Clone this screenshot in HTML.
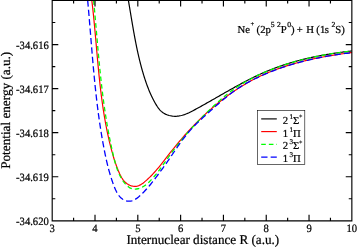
<!DOCTYPE html><html><head><meta charset="utf-8"><title>plot</title><style>html,body{margin:0;padding:0;background:#fff}svg{display:block}text{text-rendering:geometricPrecision;stroke:#000;stroke-width:0.22px;font-family:"Liberation Serif","DejaVu Serif",serif;fill:#000}</style></head><body>
<svg width="357" height="247" viewBox="0 0 357 247">
<rect width="357" height="247" fill="#fff"/>
<defs><clipPath id="c"><rect x="52.2" y="0.5" width="299.7" height="220.3"/></clipPath></defs>
<g clip-path="url(#c)" fill="none" stroke-linejoin="round">
<path d="M127.43,-5.02 L127.63,-3.92 L127.82,-2.82 L128.02,-1.72 L128.21,-0.61 L128.40,0.49 L128.59,1.59 L128.78,2.69 L128.97,3.79 L129.15,4.89 L129.34,5.99 L129.53,7.09 L129.71,8.19 L129.90,9.29 L130.08,10.39 L130.26,11.49 L130.45,12.59 L130.63,13.68 L130.81,14.78 L131.00,15.88 L131.18,16.98 L131.37,18.08 L131.55,19.18 L131.73,20.28 L131.92,21.37 L132.10,22.47 L132.29,23.57 L132.48,24.66 L132.67,25.76 L132.86,26.86 L133.05,27.95 L133.24,29.05 L133.43,30.14 L133.62,31.24 L133.82,32.33 L134.02,33.42 L134.21,34.52 L134.41,35.61 L134.62,36.70 L134.82,37.80 L135.03,38.89 L135.23,39.98 L135.44,41.07 L135.66,42.16 L135.87,43.25 L136.09,44.34 L136.31,45.43 L136.53,46.51 L136.75,47.60 L136.98,48.69 L137.21,49.77 L137.44,50.86 L137.68,51.95 L137.92,53.03 L138.16,54.11 L138.41,55.20 L138.66,56.28 L138.91,57.36 L139.17,58.44 L139.43,59.52 L139.69,60.60 L139.96,61.68 L140.23,62.76 L140.51,63.84 L140.79,64.92 L141.07,65.99 L141.36,67.07 L141.65,68.14 L141.95,69.22 L142.25,70.29 L142.56,71.36 L142.87,72.43 L143.19,73.50 L143.51,74.57 L143.83,75.64 L144.16,76.71 L144.50,77.78 L144.84,78.84 L145.19,79.91 L145.55,80.97 L145.91,82.03 L146.27,83.09 L146.65,84.14 L147.03,85.20 L147.42,86.25 L147.81,87.29 L148.22,88.34 L148.63,89.38 L149.05,90.41 L149.48,91.45 L149.91,92.47 L150.36,93.50 L150.82,94.52 L151.28,95.53 L151.76,96.54 L152.24,97.54 L152.74,98.54 L153.25,99.53 L153.77,100.51 L154.29,101.49 L154.83,102.46 L155.39,103.43 L155.95,104.39 L156.53,105.34 L157.12,106.28 L157.73,107.20 L158.37,108.10 L159.03,108.97 L159.74,109.81 L160.49,110.61 L161.28,111.37 L162.13,112.07 L163.03,112.72 L163.97,113.31 L164.96,113.85 L165.98,114.34 L167.03,114.77 L168.10,115.15 L169.20,115.47 L170.31,115.74 L171.43,115.96 L172.55,116.12 L173.68,116.23 L174.80,116.28 L175.91,116.28 L177.01,116.22 L178.10,116.12 L179.18,115.96 L180.25,115.77 L181.30,115.53 L182.35,115.25 L183.40,114.94 L184.43,114.59 L185.46,114.21 L186.48,113.81 L187.50,113.38 L188.51,112.93 L189.51,112.45 L190.51,111.96 L191.51,111.46 L192.50,110.95 L193.49,110.42 L194.48,109.90 L195.47,109.36 L196.46,108.83 L197.44,108.29 L198.42,107.76 L199.41,107.22 L200.39,106.67 L201.37,106.13 L202.35,105.59 L203.33,105.04 L204.30,104.49 L205.28,103.94 L206.26,103.39 L207.23,102.84 L208.20,102.29 L209.18,101.74 L210.15,101.18 L211.12,100.63 L212.09,100.07 L213.06,99.52 L214.03,98.96 L215.01,98.41 L215.98,97.85 L216.94,97.30 L217.91,96.74 L218.88,96.18 L219.85,95.63 L220.82,95.07 L221.79,94.52 L222.76,93.96 L223.73,93.41 L224.70,92.85 L225.67,92.30 L226.64,91.75 L227.61,91.20 L228.58,90.65 L229.55,90.10 L230.52,89.56 L231.49,89.01 L232.46,88.47 L233.43,87.92 L234.41,87.38 L235.38,86.84 L236.35,86.31 L237.33,85.77 L238.31,85.24 L239.28,84.71 L240.26,84.18 L241.24,83.65 L242.22,83.13 L243.20,82.61 L244.18,82.09 L245.17,81.57 L246.15,81.06 L247.14,80.55 L248.12,80.04 L249.11,79.54 L250.10,79.04 L251.09,78.54 L252.09,78.05 L253.08,77.56 L254.08,77.07 L255.07,76.59 L256.07,76.11 L257.08,75.63 L258.08,75.16 L259.08,74.69 L260.09,74.23 L261.10,73.77 L262.11,73.32 L263.12,72.87 L264.14,72.42 L265.16,71.98 L266.18,71.55 L267.20,71.12 L268.22,70.69 L269.25,70.27 L270.28,69.86 L271.31,69.45 L272.34,69.04 L273.38,68.64 L274.42,68.25 L275.46,67.86 L276.50,67.47 L277.55,67.09 L278.60,66.72 L279.65,66.35 L280.70,65.99 L281.75,65.63 L282.81,65.27 L283.87,64.92 L284.93,64.58 L285.99,64.24 L287.05,63.90 L288.12,63.57 L289.18,63.24 L290.25,62.92 L291.32,62.60 L292.39,62.29 L293.47,61.98 L294.54,61.68 L295.62,61.38 L296.70,61.08 L297.78,60.79 L298.86,60.50 L299.94,60.22 L301.02,59.94 L302.11,59.67 L303.19,59.40 L304.28,59.13 L305.37,58.87 L306.46,58.61 L307.54,58.36 L308.64,58.11 L309.73,57.86 L310.82,57.62 L311.91,57.38 L313.01,57.15 L314.10,56.91 L315.20,56.69 L316.29,56.46 L317.39,56.24 L318.49,56.03 L319.59,55.81 L320.69,55.60 L321.78,55.40 L322.88,55.20 L323.98,55.00 L325.08,54.80 L326.18,54.61 L327.28,54.42 L328.38,54.23 L329.49,54.05 L330.59,53.87 L331.69,53.69 L332.79,53.52 L333.89,53.35 L334.99,53.18 L336.09,53.02 L337.19,52.86 L338.29,52.70 L339.39,52.54 L340.49,52.39 L341.59,52.24 L342.69,52.09 L343.79,51.95 L344.89,51.80 L345.99,51.66 L347.08,51.53 L348.18,51.39 L349.28,51.26 L350.37,51.13 L351.47,51.00 L352.56,50.88 L353.65,50.76 L354.75,50.64 L355.84,50.52 L356.93,50.41" stroke="#000" stroke-width="1.20"/>
<path d="M91.15,-4.97 L91.35,-3.42 L91.54,-1.86 L91.73,-0.31 L91.92,1.25 L92.10,2.81 L92.28,4.36 L92.46,5.93 L92.64,7.49 L92.81,9.05 L92.98,10.61 L93.14,12.18 L93.31,13.74 L93.47,15.31 L93.63,16.87 L93.79,18.44 L93.94,20.01 L94.10,21.58 L94.25,23.15 L94.40,24.72 L94.55,26.29 L94.69,27.86 L94.84,29.43 L94.98,31.01 L95.13,32.58 L95.27,34.15 L95.41,35.73 L95.55,37.30 L95.69,38.88 L95.83,40.45 L95.97,42.03 L96.11,43.60 L96.25,45.18 L96.39,46.76 L96.53,48.33 L96.67,49.91 L96.81,51.49 L96.95,53.06 L97.09,54.64 L97.23,56.22 L97.37,57.79 L97.52,59.37 L97.66,60.95 L97.81,62.53 L97.95,64.10 L98.10,65.68 L98.25,67.26 L98.40,68.83 L98.56,70.41 L98.71,71.98 L98.87,73.56 L99.03,75.13 L99.19,76.71 L99.35,78.28 L99.52,79.86 L99.69,81.43 L99.86,83.00 L100.03,84.57 L100.21,86.14 L100.39,87.72 L100.57,89.29 L100.76,90.86 L100.95,92.42 L101.14,93.99 L101.34,95.56 L101.54,97.13 L101.74,98.69 L101.95,100.26 L102.17,101.82 L102.38,103.38 L102.60,104.94 L102.83,106.50 L103.06,108.06 L103.30,109.62 L103.54,111.18 L103.78,112.74 L104.03,114.29 L104.28,115.84 L104.54,117.40 L104.81,118.95 L105.08,120.50 L105.36,122.05 L105.64,123.59 L105.93,125.14 L106.22,126.68 L106.52,128.23 L106.83,129.77 L107.14,131.31 L107.46,132.85 L107.79,134.38 L108.12,135.92 L108.46,137.45 L108.81,138.98 L109.16,140.51 L109.52,142.04 L109.89,143.57 L110.27,145.09 L110.65,146.62 L111.04,148.14 L111.44,149.65 L111.84,151.17 L112.26,152.69 L112.69,154.20 L113.12,155.71 L113.57,157.22 L114.03,158.73 L114.51,160.24 L115.00,161.74 L115.51,163.25 L116.04,164.75 L116.58,166.25 L117.15,167.75 L117.73,169.26 L118.34,170.76 L118.98,172.26 L119.64,173.75 L120.34,175.22 L121.09,176.65 L121.90,178.03 L122.76,179.36 L123.70,180.61 L124.73,181.77 L125.84,182.83 L127.05,183.78 L128.36,184.60 L129.78,185.28 L131.29,185.81 L132.83,186.16 L134.40,186.33 L135.96,186.30 L137.48,186.05 L138.94,185.57 L140.33,184.91 L141.67,184.09 L142.97,183.16 L144.22,182.16 L145.45,181.13 L146.66,180.08 L147.84,179.01 L148.99,177.93 L150.13,176.82 L151.24,175.71 L152.34,174.57 L153.41,173.43 L154.47,172.27 L155.52,171.10 L156.55,169.92 L157.57,168.73 L158.58,167.52 L159.57,166.32 L160.56,165.10 L161.54,163.88 L162.51,162.65 L163.48,161.41 L164.45,160.18 L165.41,158.94 L166.37,157.70 L167.33,156.45 L168.29,155.21 L169.26,153.97 L170.22,152.73 L171.20,151.49 L172.17,150.25 L173.16,149.02 L174.15,147.79 L175.14,146.57 L176.14,145.34 L177.15,144.13 L178.16,142.91 L179.18,141.70 L180.21,140.49 L181.24,139.29 L182.27,138.09 L183.31,136.90 L184.36,135.71 L185.41,134.52 L186.47,133.34 L187.54,132.17 L188.61,131.00 L189.68,129.83 L190.76,128.67 L191.85,127.52 L192.95,126.37 L194.05,125.23 L195.15,124.09 L196.26,122.96 L197.38,121.83 L198.50,120.71 L199.63,119.60 L200.76,118.49 L201.91,117.39 L203.05,116.30 L204.20,115.21 L205.36,114.13 L206.53,113.06 L207.70,111.99 L208.87,110.93 L210.05,109.88 L211.24,108.83 L212.44,107.80 L213.64,106.77 L214.84,105.74 L216.05,104.73 L217.27,103.72 L218.49,102.73 L219.72,101.74 L220.96,100.76 L222.20,99.78 L223.45,98.82 L224.70,97.86 L225.96,96.92 L227.23,95.98 L228.50,95.05 L229.78,94.13 L231.06,93.22 L232.35,92.32 L233.65,91.43 L234.95,90.55 L236.26,89.68 L237.57,88.82 L238.89,87.97 L240.22,87.13 L241.55,86.30 L242.89,85.48 L244.24,84.67 L245.59,83.87 L246.95,83.08 L248.31,82.31 L249.68,81.54 L251.06,80.79 L252.44,80.04 L253.83,79.31 L255.22,78.59 L256.62,77.88 L258.03,77.18 L259.44,76.50 L260.86,75.83 L262.29,75.17 L263.72,74.52 L265.16,73.88 L266.60,73.25 L268.05,72.64 L269.50,72.04 L270.96,71.44 L272.42,70.86 L273.89,70.29 L275.37,69.73 L276.85,69.19 L278.33,68.65 L279.82,68.12 L281.31,67.60 L282.81,67.10 L284.31,66.60 L285.82,66.11 L287.32,65.63 L288.84,65.17 L290.35,64.71 L291.87,64.26 L293.39,63.82 L294.92,63.38 L296.45,62.96 L297.98,62.55 L299.51,62.14 L301.05,61.75 L302.59,61.36 L304.13,60.98 L305.67,60.60 L307.22,60.24 L308.77,59.88 L310.31,59.53 L311.87,59.19 L313.42,58.86 L314.97,58.53 L316.52,58.21 L318.08,57.90 L319.64,57.59 L321.19,57.29 L322.75,57.00 L324.31,56.72 L325.87,56.44 L327.43,56.16 L328.98,55.89 L330.54,55.63 L332.10,55.37 L333.66,55.12 L335.22,54.88 L336.77,54.64 L338.33,54.40 L339.88,54.17 L341.44,53.95 L342.99,53.73 L344.54,53.51 L346.09,53.30 L347.64,53.10 L349.19,52.89 L350.73,52.70 L352.28,52.50 L353.82,52.31 L355.36,52.13 L356.89,51.94" stroke="#f00" stroke-width="1.20"/>
<path d="M93.10,-5.00 L93.26,-3.41 L93.41,-1.82 L93.56,-0.24 L93.71,1.35 L93.86,2.94 L94.01,4.52 L94.16,6.11 L94.31,7.70 L94.45,9.29 L94.60,10.88 L94.74,12.47 L94.88,14.06 L95.02,15.65 L95.16,17.24 L95.30,18.83 L95.44,20.41 L95.58,22.01 L95.72,23.60 L95.86,25.19 L96.00,26.78 L96.14,28.37 L96.28,29.96 L96.41,31.55 L96.55,33.14 L96.69,34.73 L96.83,36.32 L96.97,37.91 L97.11,39.50 L97.25,41.09 L97.39,42.68 L97.53,44.27 L97.67,45.87 L97.81,47.46 L97.95,49.05 L98.10,50.64 L98.24,52.23 L98.39,53.82 L98.53,55.41 L98.68,57.00 L98.83,58.59 L98.98,60.18 L99.13,61.77 L99.29,63.36 L99.44,64.95 L99.60,66.54 L99.75,68.12 L99.91,69.71 L100.08,71.30 L100.24,72.89 L100.40,74.48 L100.57,76.06 L100.74,77.65 L100.91,79.24 L101.09,80.83 L101.26,82.41 L101.44,84.00 L101.62,85.58 L101.81,87.17 L101.99,88.75 L102.18,90.34 L102.38,91.92 L102.57,93.50 L102.77,95.09 L102.97,96.67 L103.17,98.25 L103.38,99.83 L103.59,101.42 L103.80,103.00 L104.02,104.58 L104.24,106.16 L104.47,107.74 L104.69,109.31 L104.93,110.89 L105.16,112.47 L105.40,114.05 L105.64,115.62 L105.89,117.20 L106.14,118.77 L106.39,120.35 L106.65,121.92 L106.92,123.49 L107.18,125.07 L107.46,126.64 L107.73,128.21 L108.01,129.78 L108.30,131.35 L108.59,132.92 L108.89,134.49 L109.19,136.05 L109.49,137.62 L109.80,139.19 L110.12,140.75 L110.44,142.31 L110.76,143.88 L111.09,145.44 L111.43,147.00 L111.77,148.56 L112.12,150.12 L112.47,151.68 L112.83,153.24 L113.19,154.80 L113.56,156.35 L113.94,157.91 L114.33,159.46 L114.72,161.01 L115.13,162.55 L115.56,164.09 L116.01,165.63 L116.49,167.15 L117.00,168.66 L117.54,170.16 L118.12,171.65 L118.73,173.12 L119.39,174.58 L120.10,176.02 L120.86,177.44 L121.67,178.84 L122.53,180.21 L123.46,181.57 L124.46,182.89 L125.51,184.15 L126.64,185.33 L127.83,186.39 L129.08,187.31 L130.41,188.06 L131.81,188.61 L133.27,188.94 L134.78,189.07 L136.32,189.00 L137.87,188.76 L139.40,188.35 L140.90,187.79 L142.34,187.10 L143.74,186.28 L145.08,185.37 L146.38,184.37 L147.64,183.30 L148.85,182.18 L150.03,181.03 L151.17,179.86 L152.28,178.67 L153.36,177.47 L154.41,176.26 L155.44,175.03 L156.44,173.80 L157.42,172.55 L158.39,171.29 L159.34,170.03 L160.27,168.75 L161.20,167.48 L162.11,166.19 L163.02,164.90 L163.92,163.61 L164.83,162.31 L165.73,161.01 L166.64,159.71 L167.55,158.42 L168.47,157.12 L169.39,155.82 L170.32,154.53 L171.26,153.24 L172.21,151.95 L173.16,150.66 L174.12,149.38 L175.09,148.10 L176.06,146.83 L177.04,145.56 L178.03,144.30 L179.02,143.04 L180.02,141.79 L181.03,140.55 L182.05,139.32 L183.07,138.09 L184.10,136.86 L185.13,135.64 L186.17,134.43 L187.21,133.23 L188.27,132.03 L189.33,130.84 L190.39,129.65 L191.46,128.47 L192.53,127.29 L193.61,126.12 L194.70,124.95 L195.79,123.79 L196.89,122.64 L197.99,121.48 L199.10,120.34 L200.21,119.19 L201.32,118.06 L202.44,116.92 L203.57,115.79 L204.70,114.67 L205.83,113.54 L206.97,112.42 L208.11,111.31 L209.26,110.19 L210.41,109.09 L211.56,107.98 L212.72,106.88 L213.88,105.78 L215.05,104.69 L216.22,103.60 L217.40,102.53 L218.59,101.45 L219.78,100.39 L220.98,99.34 L222.19,98.30 L223.41,97.26 L224.63,96.24 L225.87,95.23 L227.11,94.24 L228.37,93.26 L229.63,92.29 L230.91,91.33 L232.20,90.39 L233.50,89.47 L234.80,88.56 L236.12,87.67 L237.45,86.79 L238.79,85.92 L240.14,85.07 L241.49,84.23 L242.86,83.41 L244.23,82.60 L245.61,81.80 L247.00,81.02 L248.40,80.25 L249.81,79.49 L251.22,78.75 L252.64,78.01 L254.06,77.29 L255.50,76.58 L256.94,75.89 L258.38,75.20 L259.83,74.53 L261.29,73.87 L262.75,73.22 L264.21,72.58 L265.68,71.95 L267.16,71.33 L268.64,70.73 L270.12,70.13 L271.61,69.54 L273.09,68.97 L274.59,68.40 L276.08,67.84 L277.58,67.30 L279.09,66.76 L280.59,66.23 L282.10,65.71 L283.61,65.21 L285.13,64.71 L286.65,64.22 L288.17,63.74 L289.69,63.27 L291.22,62.81 L292.75,62.35 L294.28,61.91 L295.81,61.47 L297.35,61.05 L298.89,60.63 L300.43,60.22 L301.97,59.82 L303.52,59.43 L305.07,59.05 L306.62,58.67 L308.17,58.31 L309.72,57.95 L311.28,57.60 L312.84,57.25 L314.40,56.92 L315.96,56.59 L317.53,56.27 L319.09,55.96 L320.66,55.66 L322.23,55.36 L323.80,55.07 L325.37,54.79 L326.94,54.51 L328.52,54.24 L330.09,53.98 L331.67,53.73 L333.25,53.48 L334.82,53.24 L336.40,53.01 L337.98,52.78 L339.57,52.56 L341.15,52.35 L342.73,52.14 L344.32,51.94 L345.90,51.74 L347.48,51.55 L349.07,51.37 L350.66,51.20 L352.24,51.02 L353.83,50.86 L355.42,50.70 L357.00,50.55" stroke="#0f0" stroke-width="1.30" stroke-dasharray="4.6 3.05" stroke-dashoffset="2.35"/>
<path d="M87.18,-4.98 L87.33,-3.32 L87.49,-1.66 L87.64,-0.01 L87.79,1.66 L87.94,3.32 L88.09,4.98 L88.24,6.64 L88.38,8.30 L88.53,9.97 L88.67,11.63 L88.81,13.30 L88.96,14.96 L89.10,16.63 L89.24,18.29 L89.38,19.96 L89.51,21.63 L89.65,23.29 L89.79,24.96 L89.93,26.63 L90.06,28.30 L90.20,29.97 L90.34,31.64 L90.47,33.31 L90.61,34.98 L90.75,36.65 L90.88,38.32 L91.02,39.99 L91.15,41.66 L91.29,43.33 L91.43,45.00 L91.57,46.67 L91.71,48.34 L91.85,50.02 L91.99,51.69 L92.13,53.36 L92.27,55.03 L92.41,56.70 L92.55,58.37 L92.70,60.05 L92.84,61.72 L92.99,63.39 L93.14,65.06 L93.29,66.73 L93.44,68.40 L93.59,70.07 L93.75,71.74 L93.90,73.41 L94.06,75.08 L94.22,76.75 L94.38,78.42 L94.55,80.09 L94.71,81.76 L94.88,83.43 L95.05,85.10 L95.22,86.77 L95.40,88.43 L95.57,90.10 L95.75,91.77 L95.94,93.43 L96.12,95.10 L96.31,96.77 L96.50,98.43 L96.69,100.09 L96.89,101.76 L97.09,103.42 L97.29,105.08 L97.50,106.75 L97.71,108.41 L97.92,110.07 L98.13,111.73 L98.35,113.39 L98.58,115.04 L98.80,116.70 L99.03,118.36 L99.27,120.01 L99.51,121.67 L99.75,123.32 L100.00,124.98 L100.25,126.63 L100.50,128.28 L100.76,129.93 L101.02,131.58 L101.29,133.23 L101.56,134.88 L101.84,136.53 L102.12,138.17 L102.40,139.82 L102.70,141.46 L102.99,143.10 L103.29,144.74 L103.60,146.38 L103.91,148.02 L104.22,149.66 L104.54,151.30 L104.87,152.93 L105.20,154.57 L105.55,156.20 L105.89,157.83 L106.25,159.46 L106.62,161.09 L107.00,162.72 L107.38,164.34 L107.78,165.96 L108.19,167.59 L108.62,169.21 L109.06,170.82 L109.51,172.44 L109.98,174.05 L110.46,175.67 L110.96,177.28 L111.48,178.88 L112.02,180.49 L112.57,182.09 L113.15,183.69 L113.74,185.29 L114.35,186.89 L115.00,188.47 L115.68,190.04 L116.43,191.58 L117.24,193.07 L118.14,194.51 L119.13,195.88 L120.23,197.16 L121.44,198.30 L122.76,199.28 L124.17,200.07 L125.66,200.65 L127.21,201.03 L128.77,201.18 L130.35,201.12 L131.90,200.82 L133.41,200.29 L134.88,199.55 L136.31,198.66 L137.70,197.63 L139.04,196.53 L140.35,195.37 L141.61,194.19 L142.84,192.99 L144.04,191.78 L145.20,190.55 L146.34,189.31 L147.46,188.05 L148.55,186.78 L149.62,185.51 L150.67,184.22 L151.71,182.92 L152.74,181.61 L153.76,180.30 L154.78,178.98 L155.79,177.66 L156.79,176.33 L157.79,175.00 L158.79,173.67 L159.78,172.32 L160.77,170.98 L161.76,169.63 L162.74,168.27 L163.71,166.91 L164.69,165.55 L165.65,164.18 L166.62,162.81 L167.57,161.44 L168.53,160.06 L169.48,158.68 L170.42,157.29 L171.36,155.90 L172.30,154.51 L173.24,153.13 L174.18,151.74 L175.13,150.35 L176.07,148.96 L177.02,147.58 L177.97,146.21 L178.93,144.83 L179.90,143.47 L180.87,142.11 L181.86,140.76 L182.85,139.41 L183.86,138.08 L184.88,136.76 L185.91,135.45 L186.95,134.15 L188.02,132.86 L189.10,131.59 L190.19,130.34 L191.31,129.10 L192.44,127.87 L193.59,126.66 L194.75,125.46 L195.93,124.27 L197.12,123.09 L198.32,121.92 L199.54,120.77 L200.76,119.62 L201.99,118.47 L203.22,117.33 L204.46,116.20 L205.71,115.07 L206.96,113.95 L208.21,112.83 L209.47,111.71 L210.72,110.59 L211.98,109.47 L213.23,108.35 L214.49,107.23 L215.74,106.12 L217.00,105.01 L218.27,103.91 L219.53,102.81 L220.80,101.71 L222.08,100.63 L223.36,99.55 L224.64,98.48 L225.94,97.42 L227.24,96.37 L228.54,95.33 L229.86,94.30 L231.18,93.29 L232.52,92.29 L233.86,91.30 L235.22,90.33 L236.59,89.37 L237.97,88.43 L239.36,87.51 L240.76,86.61 L242.18,85.73 L243.61,84.86 L245.05,84.01 L246.51,83.18 L247.97,82.36 L249.45,81.56 L250.93,80.78 L252.42,80.01 L253.92,79.26 L255.43,78.52 L256.94,77.79 L258.46,77.07 L259.98,76.37 L261.51,75.68 L263.05,75.00 L264.58,74.33 L266.13,73.67 L267.67,73.03 L269.22,72.40 L270.78,71.77 L272.34,71.16 L273.90,70.56 L275.46,69.97 L277.03,69.39 L278.61,68.82 L280.18,68.26 L281.76,67.72 L283.35,67.18 L284.94,66.65 L286.53,66.13 L288.12,65.63 L289.72,65.13 L291.32,64.64 L292.92,64.17 L294.53,63.70 L296.14,63.24 L297.75,62.79 L299.36,62.35 L300.98,61.92 L302.60,61.50 L304.22,61.09 L305.85,60.69 L307.47,60.29 L309.10,59.91 L310.73,59.53 L312.37,59.16 L314.00,58.80 L315.64,58.45 L317.28,58.11 L318.92,57.77 L320.56,57.45 L322.21,57.13 L323.86,56.82 L325.50,56.51 L327.15,56.22 L328.80,55.93 L330.45,55.65 L332.11,55.38 L333.76,55.11 L335.42,54.85 L337.07,54.60 L338.73,54.36 L340.39,54.12 L342.05,53.89 L343.71,53.67 L345.37,53.45 L347.03,53.24 L348.69,53.03 L350.35,52.84 L352.01,52.64 L353.67,52.46 L355.33,52.28 L357.00,52.10" stroke="#00f" stroke-width="1.30" stroke-dasharray="6.3 3.15" stroke-dashoffset="4.15"/>
</g>
<path d="M52.20,0.50 V220.80 H351.85 V0.50 Z M52.20,220.80 v-6.1 M52.20,0.50 v6.1 M73.60,220.80 v-3.1 M73.60,0.50 v3.1 M95.01,220.80 v-6.1 M95.01,0.50 v6.1 M116.41,220.80 v-3.1 M116.41,0.50 v3.1 M137.81,220.80 v-6.1 M137.81,0.50 v6.1 M159.22,220.80 v-3.1 M159.22,0.50 v3.1 M180.62,220.80 v-6.1 M180.62,0.50 v6.1 M202.03,220.80 v-3.1 M202.03,0.50 v3.1 M223.43,220.80 v-6.1 M223.43,0.50 v6.1 M244.83,220.80 v-3.1 M244.83,0.50 v3.1 M266.24,220.80 v-6.1 M266.24,0.50 v6.1 M287.64,220.80 v-3.1 M287.64,0.50 v3.1 M309.04,220.80 v-6.1 M309.04,0.50 v6.1 M330.45,220.80 v-3.1 M330.45,0.50 v3.1 M351.85,220.80 v-6.1 M351.85,0.50 v6.1 M52.20,0.50 h6.1 M351.85,0.50 h-6.1 M52.20,22.53 h3.1 M351.85,22.53 h-3.1 M52.20,44.56 h6.1 M351.85,44.56 h-6.1 M52.20,66.59 h3.1 M351.85,66.59 h-3.1 M52.20,88.62 h6.1 M351.85,88.62 h-6.1 M52.20,110.65 h3.1 M351.85,110.65 h-3.1 M52.20,132.68 h6.1 M351.85,132.68 h-6.1 M52.20,154.71 h3.1 M351.85,154.71 h-3.1 M52.20,176.74 h6.1 M351.85,176.74 h-6.1 M52.20,198.77 h3.1 M351.85,198.77 h-3.1 M52.20,220.80 h6.1 M351.85,220.80 h-6.1" fill="none" stroke="#000" stroke-width="1.15" stroke-linejoin="miter" stroke-linecap="butt"/>
<text transform="translate(52.20,232.40) scale(0.950,1)" font-size="11.20" text-anchor="middle">3</text>
<text transform="translate(95.01,232.40) scale(0.950,1)" font-size="11.20" text-anchor="middle">4</text>
<text transform="translate(137.81,232.40) scale(0.950,1)" font-size="11.20" text-anchor="middle">5</text>
<text transform="translate(180.62,232.40) scale(0.950,1)" font-size="11.20" text-anchor="middle">6</text>
<text transform="translate(223.43,232.40) scale(0.950,1)" font-size="11.20" text-anchor="middle">7</text>
<text transform="translate(266.24,232.40) scale(0.950,1)" font-size="11.20" text-anchor="middle">8</text>
<text transform="translate(309.04,232.40) scale(0.950,1)" font-size="11.20" text-anchor="middle">9</text>
<text transform="translate(351.85,232.40) scale(0.950,1)" font-size="11.20" text-anchor="middle">10</text>
<text transform="translate(48.80,48.76) scale(0.950,1)" font-size="11.20" text-anchor="end">-34.616</text>
<text transform="translate(48.80,92.82) scale(0.950,1)" font-size="11.20" text-anchor="end">-34.617</text>
<text transform="translate(48.80,136.88) scale(0.950,1)" font-size="11.20" text-anchor="end">-34.618</text>
<text transform="translate(48.80,180.94) scale(0.950,1)" font-size="11.20" text-anchor="end">-34.619</text>
<text transform="translate(48.80,225.00) scale(0.950,1)" font-size="11.20" text-anchor="end">-34.620</text>
<text transform="translate(202.80,244.30) scale(0.988,1)" font-size="13.30" text-anchor="middle">Internuclear distance R (a.u.)</text>
<text transform="translate(9.60,110.30) rotate(-90) scale(1.001,1)" font-size="13.20" text-anchor="middle">Potential energy (a.u.)</text>
<text><tspan x="237.60" y="32.80" font-size="10.70">Ne</tspan><tspan x="250.60" y="26.00" font-size="6.60">+ </tspan><tspan x="256.60" y="32.80" font-size="10.70">(2p</tspan><tspan x="270.80" y="27.20" font-size="7.70">5 </tspan><tspan x="277.10" y="27.20" font-size="7.70">2</tspan><tspan x="280.80" y="32.80" font-size="10.70">P</tspan><tspan x="287.20" y="26.80" font-size="7.70">0</tspan><tspan x="291.00" y="32.80" font-size="10.70">) </tspan><tspan x="296.80" y="32.80" font-size="10.70">+ </tspan><tspan x="306.20" y="32.80" font-size="10.70">H </tspan><tspan x="316.30" y="32.80" font-size="10.70">(</tspan><tspan x="320.10" y="32.80" font-size="10.70">1</tspan><tspan x="324.70" y="32.80" font-size="10.70">s </tspan><tspan x="331.50" y="27.20" font-size="7.70">2</tspan><tspan x="335.30" y="32.80" font-size="10.70">S)</tspan></text>
<rect x="257.4" y="110.6" width="47.4" height="53.8" fill="#fff" stroke="#000" stroke-width="0.6"/>
<path d="M261.2,118.9 H276.8" stroke="#000" stroke-width="1.15"/>
<path d="M261.2,131.6 H276.8" stroke="#f00" stroke-width="1.15"/>
<path d="M261.2,144.3 H277" stroke="#0f0" stroke-width="1.25" stroke-dasharray="4.6 3.05"/>
<path d="M261.2,157.0 H276.8" stroke="#00f" stroke-width="1.25" stroke-dasharray="6.3 3.15"/>
<text><tspan x="282.80" y="124.00" font-size="10.70">2 </tspan><tspan x="289.40" y="119.00" font-size="7.10">1</tspan><tspan x="293.00" y="124.00" font-size="10.70">Σ</tspan><tspan x="299.00" y="118.30" font-size="6" style="stroke-width:0.1px">+</tspan></text>
<text><tspan x="282.80" y="136.70" font-size="10.70">1 </tspan><tspan x="289.40" y="131.70" font-size="7.10">1</tspan><tspan x="293.00" y="136.70" font-size="10.70">Π</tspan></text>
<text><tspan x="282.80" y="149.40" font-size="10.70">2 </tspan><tspan x="289.40" y="144.40" font-size="7.10">3</tspan><tspan x="293.00" y="149.40" font-size="10.70">Σ</tspan><tspan x="299.00" y="143.70" font-size="6" style="stroke-width:0.1px">+</tspan></text>
<text><tspan x="282.80" y="162.10" font-size="10.70">1 </tspan><tspan x="289.40" y="157.10" font-size="7.10">3</tspan><tspan x="293.00" y="162.10" font-size="10.70">Π</tspan></text>
</svg></body></html>
